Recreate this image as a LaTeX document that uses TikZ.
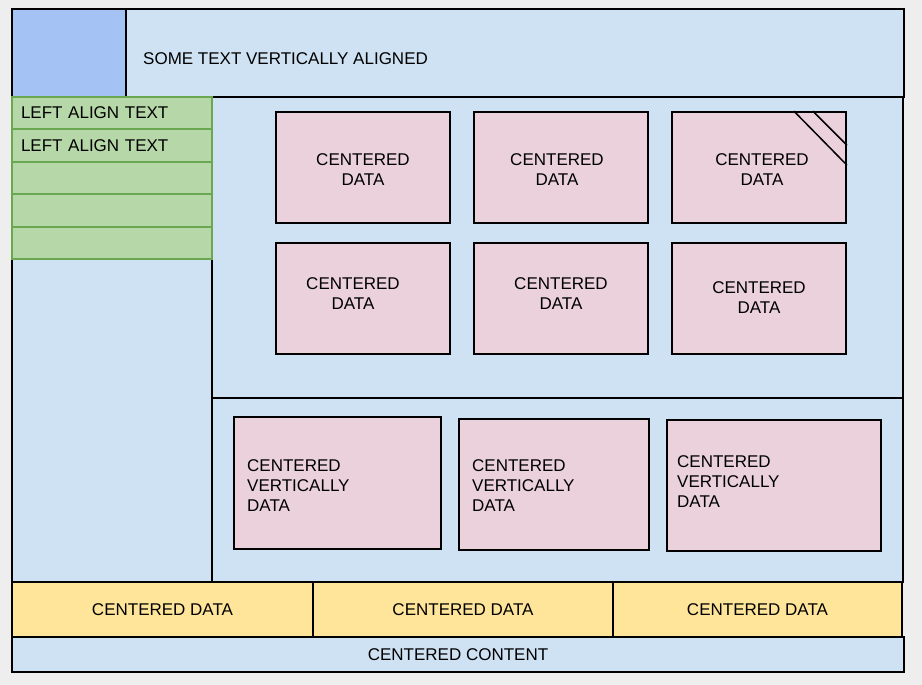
\documentclass[tikz,border=0pt]{standalone}
\usepackage{fontspec}
\setmainfont{Liberation Sans}
\definecolor{pagegray}{HTML}{EEEEEE}
\definecolor{panelblue}{HTML}{CFE2F3}
\definecolor{cornerblue}{HTML}{A4C2F4}
\definecolor{rowgreen}{HTML}{B6D7A8}
\definecolor{rowgreenline}{HTML}{6AA84F}
\definecolor{datapink}{HTML}{EAD1DC}
\definecolor{cellyellow}{HTML}{FFE599}
\begin{document}
\begin{tikzpicture}[
    x=1pt, y=-1pt,
    font=\fontsize{17}{20}\selectfont,
    box/.style={rectangle, draw=black, line width=1.5pt, inner sep=0pt},
    panel/.style={box, fill=panelblue},
    corner/.style={box, fill=cornerblue},
    greenrow/.style={box, draw=rowgreenline, line width=2pt, fill=rowgreen, minimum width=200pt, minimum height=32.5pt, text width=182pt, align=left},
    pinkbox/.style={box, fill=datapink, line width=1.8pt},
    cell/.style={box, fill=cellyellow, minimum height=55pt},
    txt/.style={inner sep=0pt, align=center},
    lefttxt/.style={inner sep=0pt, align=left, anchor=west}
]

% Page
\fill[pagegray] (0,0) rectangle (922,685);
\useasboundingbox (0,0) rectangle (922,685);

% Header
\node[corner, minimum width=114pt, minimum height=88pt] (corner) at (69,53) {};
\node[panel, minimum width=778pt, minimum height=88pt] (header) at (515,53) {};
\node[lefttxt] (headertext) at (143,59) {SOME TEXT VERTICALLY ALIGNED};

% Panels
\node[panel, minimum width=200pt, minimum height=485pt] (sidebar) at (112,339.5) {};
\node[panel, minimum width=691pt, minimum height=301pt] (grid) at (557.5,247.5) {};
\node[panel, minimum width=691pt, minimum height=184pt] (lower) at (557.5,490) {};

% Sidebar rows
\node[greenrow] (row1) at (112,113) {LEFT ALIGN TEXT};
\node[greenrow] (row2) at (112,145.5) {LEFT ALIGN TEXT};
\node[greenrow] (row3) at (112,178) {};
\node[greenrow] (row4) at (112,210.5) {};
\node[greenrow] (row5) at (112,243) {};

% Data grid
\node[pinkbox, minimum width=174pt, minimum height=111pt] (data1) at (363,167.5) {};
\node[pinkbox, minimum width=174pt, minimum height=111pt] (data2) at (561,167.5) {};
\node[pinkbox, minimum width=174pt, minimum height=111pt] (data3) at (759,167.5) {};
\node[pinkbox, minimum width=174pt, minimum height=111pt] (data4) at (363,298.5) {};
\node[pinkbox, minimum width=174pt, minimum height=111pt] (data5) at (561,298.5) {};
\node[pinkbox, minimum width=174pt, minimum height=111pt] (data6) at (759,298.5) {};

\node[txt] (text1) at (363,170) {CENTERED\\DATA};
\node[txt] (text2) at (557,170) {CENTERED\\DATA};
\node[txt] (text3) at (762,170) {CENTERED\\DATA};
\node[txt] (text4) at (353,294) {CENTERED\\DATA};
\node[txt] (text5) at (561,294) {CENTERED\\DATA};
\node[txt] (text6) at (759,298) {CENTERED\\DATA};

% Folded corner
\draw[line width=1.5pt] ([xshift=-53pt]data3.north east) -- ([yshift=-54pt]data3.north east);
\draw[line width=1.5pt] ([xshift=-34pt]data3.north east) -- ([yshift=-34pt]data3.north east);

% Vertically centered boxes
\node[pinkbox, minimum width=207pt, minimum height=132pt] (vdata1) at (337.5,483) {};
\node[pinkbox, minimum width=190pt, minimum height=131pt] (vdata2) at (554,484.5) {};
\node[pinkbox, minimum width=214pt, minimum height=131pt] (vdata3) at (774,485.5) {};

\node[lefttxt] (vtext1) at (247,486) {CENTERED\\VERTICALLY\\DATA};
\node[lefttxt] (vtext2) at (472,486) {CENTERED\\VERTICALLY\\DATA};
\node[lefttxt] (vtext3) at (677,482) {CENTERED\\VERTICALLY\\DATA};

% Footer
\node[cell, minimum width=301pt] (cell1) at (162.5,609.5) {CENTERED DATA};
\node[cell, minimum width=300pt] (cell2) at (463,609.5) {CENTERED DATA};
\node[cell, minimum width=289pt] (cell3) at (757.5,609.5) {CENTERED DATA};
\node[panel, minimum width=892pt, minimum height=35pt] (footer) at (458,654.5) {CENTERED CONTENT};

\end{tikzpicture}
\end{document}
